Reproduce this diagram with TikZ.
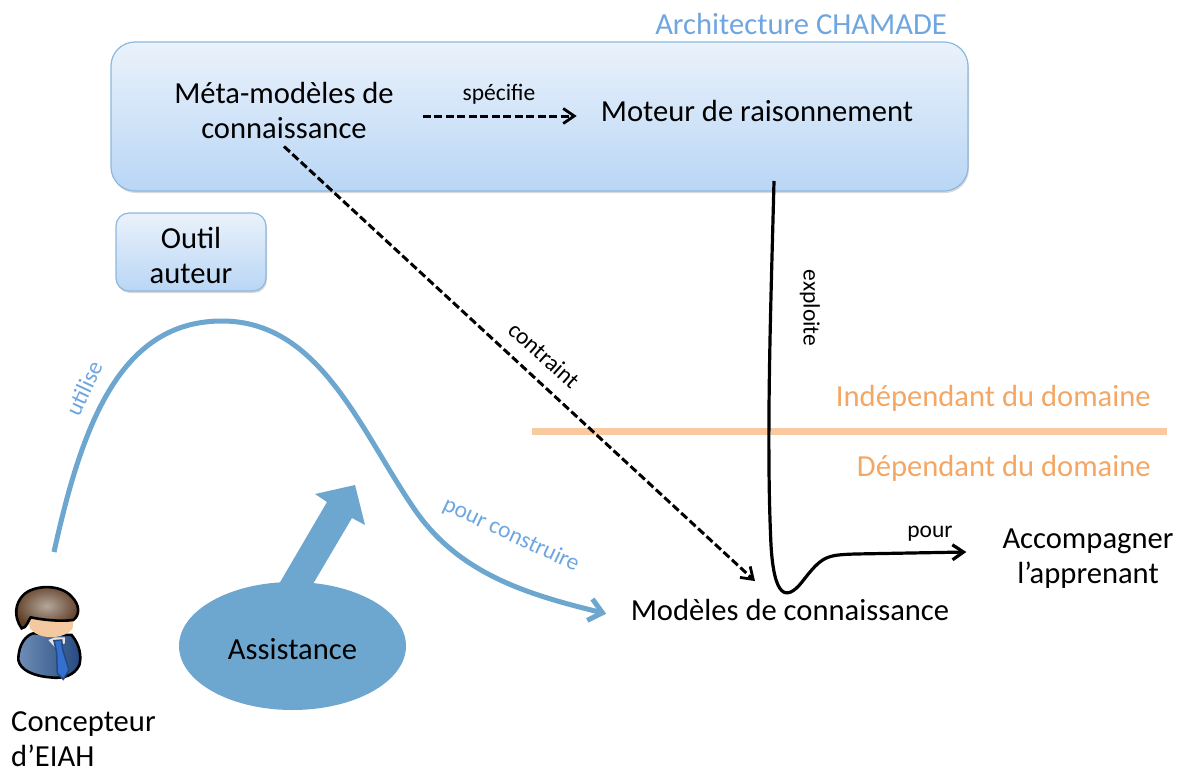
\documentclass[tikz,border=0pt]{standalone}
\usepackage{fontspec}
\setmainfont{Carlito}
\usetikzlibrary{positioning,shapes.geometric,shadows,arrows.meta}
\definecolor{boxtop}{HTML}{EAF2FB}
\definecolor{boxbottom}{HTML}{B9D6F5}
\definecolor{boxline}{HTML}{8DB8DE}
\definecolor{bluelab}{HTML}{6FA6E0}
\definecolor{bluearrow}{HTML}{6DA7D0}
\definecolor{orangelab}{HTML}{F4A765}
\definecolor{orangeline}{HTML}{F9C9A0}
\definecolor{suitlight}{HTML}{6F8DB5}
\definecolor{suitdark}{HTML}{24497F}
\definecolor{tieblue}{HTML}{3570D0}
\definecolor{skin}{HTML}{F5C9A0}
\definecolor{hairdark}{HTML}{5F3E26}
\definecolor{hairlight}{HTML}{B5A79C}
\begin{document}
\begin{tikzpicture}[
		x=1pt,y=-1pt,
		bluebox/.style={draw=boxline,line width=1.2pt,top color=boxtop,bottom color=boxbottom,drop shadow={shadow xshift=1pt,shadow yshift=-2pt,opacity=0.3}},
		bigtext/.style={font=\fontsize{30.6}{35}\selectfont,align=center,inner sep=3pt},
		smalltext/.style={font=\fontsize{23.5}{28}\selectfont,inner sep=0pt},
		dashedarrow/.style={-{Straight Barb[length=11pt,width=15pt,line width=2.8pt]},line width=3pt,dash pattern=on 8pt off 3.5pt},
		blackarrow/.style={-{Straight Barb[length=11pt,width=15pt]},line width=3.2pt},
		bluearrowline/.style={-{Straight Barb[length=13pt,width=22pt]},bluearrow,line width=5pt}
		]

	\useasboundingbox (0,0) rectangle (1182,771);

	\node[bluebox,rounded corners=24pt,minimum width=857pt,minimum height=149pt,inner sep=0pt](chamade) at (539.5,116.5){};
	\node[bluebox,rounded corners=13pt,minimum width=150pt,minimum height=78pt,inner sep=0pt](outilbox) at (191,252){};

	\node[bigtext](meta) at (284,110){Méta-modèles de\\connaissance};
	\node[bigtext](moteur) at (757,111){Moteur de raisonnement};
	\node[bigtext](outil) at (191,255){Outil\\auteur};
	\node[bigtext,text=bluelab,inner sep=0pt](archi) at (801,24){Architecture CHAMADE};
	\node[bigtext,text=orangelab,anchor=east,inner sep=0pt](indep) at (1151,398){Indépendant du domaine};
	\node[bigtext,text=orangelab,anchor=east,inner sep=0pt](dep) at (1151,468){Dépendant du domaine};
	\node[bigtext](modeles) at (790,610){Modèles de connaissance};
	\node[bigtext](accomp) at (1088,559){Accompagner\\l’apprenant};
	\node[bigtext,anchor=west,align=left,inner sep=0pt](concepteur) at (11,739){Concepteur\\d’EIAH};

	\node[smalltext](specifie) at (499,94){spécifie};
	\node[smalltext,rotate=-42](contraint) at (544,355){contraint};
	\node[smalltext,rotate=-90](exploite) at (810,308){exploite};
	\node[smalltext](pour) at (930,534){pour};
	\node[smalltext,text=bluelab,rotate=65](utilise) at (84,388){utilise};
	\node[smalltext,text=bluelab,rotate=-25](construire) at (511,535){pour construire};

	\coordinate (lineleft) at (532,431);
	\coordinate (lineright) at (1167,431);
	\draw[orangeline,line width=7pt] (lineleft) -- (lineright);

	\draw[dashedarrow,shorten <=26pt,shorten >=21pt] ([yshift=-6pt]meta.east) -- ([yshift=-5pt]moteur.west);
	\draw[dashedarrow] ([yshift=-5pt]meta.south) -- ([xshift=-35pt,yshift=15pt]modeles.north);

	\coordinate (exploitestart) at (774,181);
	\draw[blackarrow] (exploitestart) .. controls (771,300) and (766,440) .. (771,545) .. controls (774,597) and (786,602) .. (802,582) .. controls (822,556) and (826,555) .. (855,554) -- ([xshift=-33pt,yshift=7pt]accomp.west);

	\coordinate (utilisestart) at (54,552);
	\draw[bluearrowline,shorten >=22pt] (utilisestart) .. controls (82,425) and (120,321) .. (222,321) .. controls (320,321) and (360,430) .. (415,510) .. controls (460,575) and (530,595) .. ([yshift=-9pt]modeles.west);

	\node[ellipse,fill=bluearrow,minimum width=227pt,minimum height=128pt,inner sep=0pt](assistance) at (292.5,646){};
	\node[bigtext](assistancetext) at (292.5,649){Assistance};
	\fill[bluearrow] (279,584) -- (327,502) -- (315,494) -- (355,485) -- (365,525) -- (352,518) -- (313,584) -- cycle;

	\begin{scope}[shift={(0,560)},scale=0.3333,line width=2.6pt]
		\draw[left color=suitlight,right color=suitdark,draw=black] (55,300) .. controls (55,250) and (80,225) .. (100,220) -- (215,225) .. controls (240,255) and (245,290) .. (238,315) .. controls (225,345) and (190,358) .. (150,352) .. controls (100,348) and (60,330) .. (55,300) -- cycle;
		\fill[white!80!gray] (145,240) -- (165,232) -- (195,232) -- (195,250) -- (165,262) -- cycle;
		\draw[fill=tieblue,draw=suitdark,line width=1.5pt] (162,242) -- (185,240) -- (188,268) -- (207,330) -- (190,358) -- (172,340) -- (170,278) -- cycle;
		\fill[skin] (85,170) -- (220,170) -- (218,205) .. controls (200,235) and (120,245) .. (90,205) -- cycle;
		\shade[inner color=hairlight,outer color=hairdark,draw=black] (65,205) .. controls (40,170) and (45,130) .. (70,105) .. controls (100,75) and (180,70) .. (215,110) .. controls (240,135) and (240,165) .. (220,180) .. controls (180,185) and (130,180) .. (92,172) .. controls (85,180) and (80,205) .. (65,205) -- cycle;
	\end{scope}

\end{tikzpicture}
\end{document}
